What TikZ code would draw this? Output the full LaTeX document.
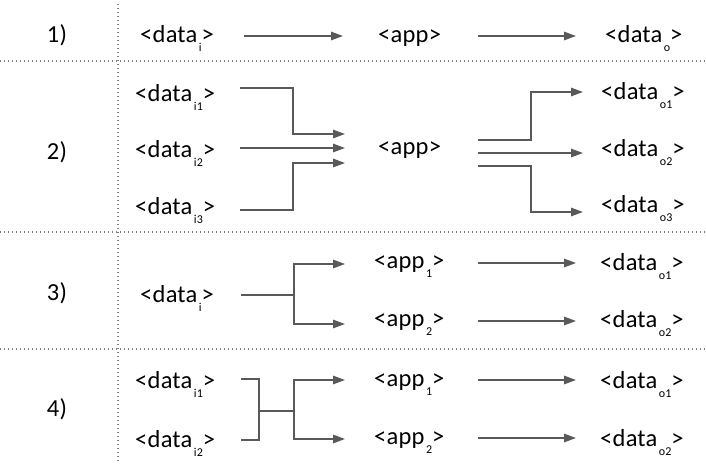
\documentclass[tikz,border=0pt]{standalone}
\usepackage{fontspec}
\setmainfont{Carlito}[LetterSpace=1]
\usetikzlibrary{arrows.meta}
\definecolor{ln}{RGB}{89,89,89}
\definecolor{dotc}{RGB}{125,125,125}
\newcommand\subx[1]{\hspace{1.5bp}\raisebox{-9bp}{\fontsize{12bp}{14bp}\selectfont #1}}
\begin{document}
\begin{tikzpicture}[x=1bp,y=-1bp,
  txt/.style={inner sep=0pt, anchor=base west, font=\fontsize{24.5bp}{28bp}\selectfont},
  lbl/.style={inner sep=0pt, anchor=base, font=\fontsize{24.5bp}{28bp}\selectfont},
  conn/.style={draw=ln, line width=1.4bp},
  arr/.style={conn, -{Triangle[length=12bp,width=8.5bp]}},
  sepline/.style={draw=dotc, line width=1.2bp, dash pattern=on 1.2bp off 2.8bp}]
\useasboundingbox (0,0) rectangle (706,472);
% separators
\coordinate (s1a) at (0,61);  \coordinate (s1b) at (706,61);
\coordinate (s2a) at (0,232); \coordinate (s2b) at (706,232);
\coordinate (s3a) at (0,349); \coordinate (s3b) at (706,349);
\coordinate (v1a) at (118,4); \coordinate (v1b) at (118,462);
\draw[sepline] (s1a) -- (s1b);
\draw[sepline] (s2a) -- (s2b);
\draw[sepline] (s3a) -- (s3b);
\draw[sepline] (v1a) -- (v1b);
% row labels
\node[lbl] (l1) at (57,43) {1)};
\node[lbl] (l2) at (57,160) {2)};
\node[lbl] (l3) at (57,301) {3)};
\node[lbl] (l4) at (57,416) {4)};
% row 1
\node[txt] (d1i) at (140,43) {<data\subx{i}>};
\node[txt] (a1) at (378,43) {<app>};
\node[txt] (d1o) at (605,43) {<data\subx{o}>};
\coordinate (r1a) at (244,36); \coordinate (r1b) at (343,36);
\coordinate (r1c) at (478,36); \coordinate (r1d) at (576,36);
\draw[arr] (r1a) -- (r1b);
\draw[arr] (r1c) -- (r1d);
% row 2
\node[txt] (d2i1) at (135,102) {<data\subx{i1}>};
\node[txt] (d2i2) at (135,158) {<data\subx{i2}>};
\node[txt] (d2i3) at (135,215) {<data\subx{i3}>};
\node[txt] (a2) at (378,155) {<app>};
\node[txt] (d2o1) at (601,100) {<data\subx{o1}>};
\node[txt] (d2o2) at (601,157) {<data\subx{o2}>};
\node[txt] (d2o3) at (601,213) {<data\subx{o3}>};
\coordinate (p1s) at (240,88);  \coordinate (p1k) at (293,134); \coordinate (p1e) at (345,134);
\coordinate (p2s) at (240,148); \coordinate (p2e) at (345,148);
\coordinate (p3s) at (240,210); \coordinate (p3k) at (293,163); \coordinate (p3e) at (345,163);
\draw[arr] (p1s) -| (p1k) -- (p1e);
\draw[arr] (p2s) -- (p2e);
\draw[arr] (p3s) -| (p3k) -- (p3e);
\coordinate (q1s) at (478,140); \coordinate (q1k) at (531,92);  \coordinate (q1e) at (583,92);
\coordinate (q2s) at (478,153); \coordinate (q2e) at (583,153);
\coordinate (q3s) at (478,166); \coordinate (q3k) at (531,212); \coordinate (q3e) at (583,212);
\draw[arr] (q1s) -| (q1k) -- (q1e);
\draw[arr] (q2s) -- (q2e);
\draw[arr] (q3s) -| (q3k) -- (q3e);
% row 3
\node[txt] (d3i) at (140,303) {<data\subx{i}>};
\node[txt] (a3a) at (374,269) {<app\subx{1}>};
\node[txt] (a3b) at (374,327) {<app\subx{2}>};
\node[txt] (d3o1) at (600,271) {<data\subx{o1}>};
\node[txt] (d3o2) at (600,328) {<data\subx{o2}>};
\coordinate (t3s) at (241,295); \coordinate (t3k) at (294,295);
\coordinate (t3e1) at (345,264); \coordinate (t3e2) at (345,324);
\draw[conn] (t3s) -- (t3k);
\draw[arr] (t3k) |- (t3e1);
\draw[arr] (t3k) |- (t3e2);
\coordinate (u3a) at (478,263); \coordinate (u3b) at (576,263);
\coordinate (u3c) at (478,321); \coordinate (u3d) at (576,321);
\draw[arr] (u3a) -- (u3b);
\draw[arr] (u3c) -- (u3d);
% row 4
\node[txt] (d4i1) at (135,388) {<data\subx{i1}>};
\node[txt] (d4i2) at (135,447) {<data\subx{i2}>};
\node[txt] (a4a) at (374,386) {<app\subx{1}>};
\node[txt] (a4b) at (374,444) {<app\subx{2}>};
\node[txt] (d4o1) at (600,388) {<data\subx{o1}>};
\node[txt] (d4o2) at (600,446) {<data\subx{o2}>};
\coordinate (b4a) at (241,379); \coordinate (b4b) at (259,440); \coordinate (b4c) at (241,440);
\coordinate (b4m) at (259,411); \coordinate (b4k) at (294,411);
\coordinate (b4e1) at (345,380); \coordinate (b4e2) at (345,439);
\draw[conn] (b4a) -| (b4b) -- (b4c);
\draw[conn] (b4m) -- (b4k);
\draw[arr] (b4k) |- (b4e1);
\draw[arr] (b4k) |- (b4e2);
\coordinate (w4a) at (478,380); \coordinate (w4b) at (576,380);
\coordinate (w4c) at (478,438); \coordinate (w4d) at (576,438);
\draw[arr] (w4a) -- (w4b);
\draw[arr] (w4c) -- (w4d);
\end{tikzpicture}
\end{document}
